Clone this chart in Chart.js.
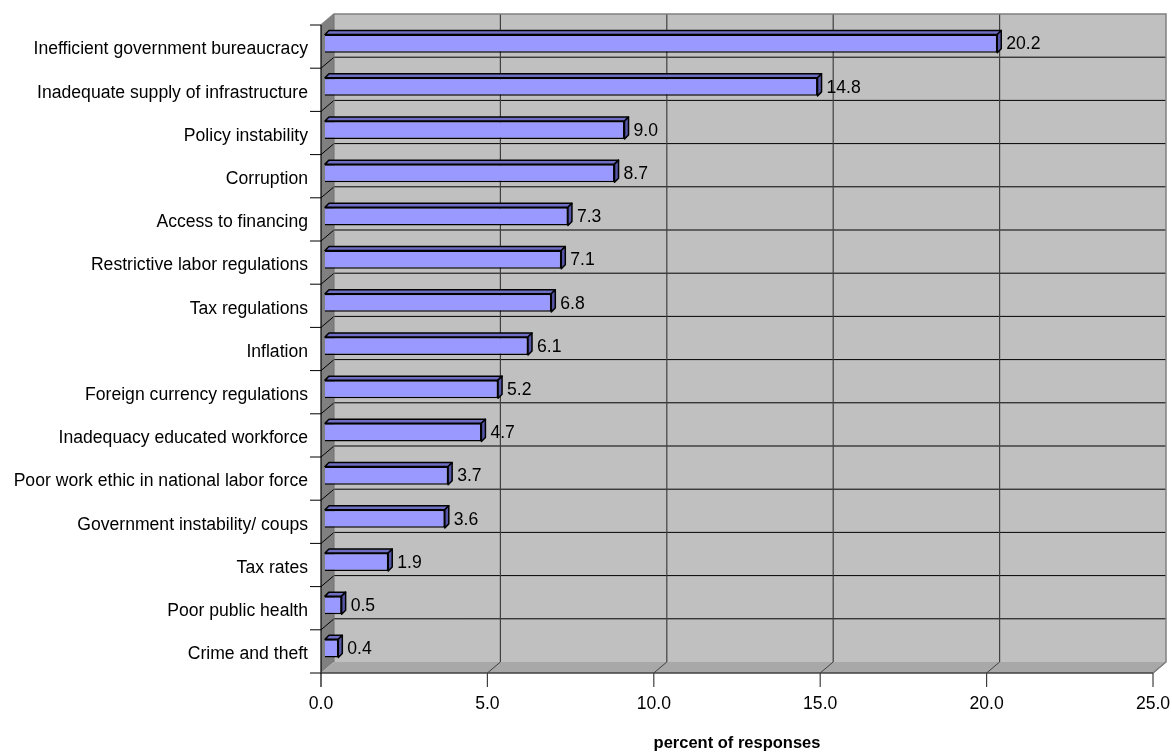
<!DOCTYPE html>
<html>
<head>
<meta charset="utf-8">
<script src="https://cdn.jsdelivr.net/npm/chart.js@4/dist/chart.umd.min.js"></script>
<style>
body{margin:0;background:#fff;}
#wrap{width:1172px;height:753px;}
</style>
</head>
<body>
<div id="wrap"><canvas id="grafico" width="1172" height="753"></canvas></div>
<script>
// categorias y valores
var categorias = ["Inefficient government bureaucracy","Inadequate supply of infrastructure","Policy instability","Corruption","Access to financing","Restrictive labor regulations","Tax regulations","Inflation","Foreign currency regulations","Inadequacy educated workforce","Poor work ethic in national labor force","Government instability/ coups","Tax rates","Poor public health","Crime and theft"];
var valores = [20.2,14.8,9.0,8.7,7.3,7.1,6.8,6.1,5.2,4.7,3.7,3.6,1.9,0.5,0.4];
var ticksX = [0,5,10,15,20,25];
var tituloX = "percent of responses";

var FUENTE = '"Liberation Sans", Arial, sans-serif';

// profundidad del efecto 3D
var DX = 13, DY = -11;   // pared
var BX = 4, BY = -3;     // desplazamiento de barras
var PX = 4, PY = -4;     // grosor de barras

function linea(ctx, x1, y1, x2, y2, color, w){
	ctx.beginPath();
	ctx.strokeStyle = color;
	ctx.lineWidth = w || 1;
	ctx.moveTo(x1, y1);
	ctx.lineTo(x2, y2);
	ctx.stroke();
}

function poligono(ctx, pts, fill, stroke){
	ctx.beginPath();
	ctx.moveTo(pts[0][0], pts[0][1]);
	for(var i=1;i<pts.length;i++) ctx.lineTo(pts[i][0], pts[i][1]);
	ctx.closePath();
	if(fill){ ctx.fillStyle = fill; ctx.fill(); }
	if(stroke){ ctx.strokeStyle = stroke; ctx.stroke(); }
}

var paredes = {
	id: 'paredes',
	beforeDatasetsDraw: function(chart){
		var ctx = chart.ctx, a = chart.chartArea;
		var L = a.left, R = a.right, T = a.top, B = a.bottom;
		var xs = chart.scales.x;
		var paso = (B - T) / categorias.length;
		ctx.save();
		// pared del fondo
		poligono(ctx, [[L+DX,T+DY],[R+DX,T+DY],[R+DX,B+DY],[L+DX,B+DY]], '#c0c0c0', null);
		// pared izquierda
		poligono(ctx, [[L,T],[L+DX,T+DY],[L+DX,B+DY],[L,B]], '#808080', null);
		// piso
		poligono(ctx, [[L,B],[L+DX,B+DY],[R+DX,B+DY],[R,B]], '#a8a8a8', null);
		// lineas horizontales
		for(var i=1;i<categorias.length;i++){
			var y = T + i*paso;
			linea(ctx, L+DX, y+DY, R+DX, y+DY, '#000', 1);
			linea(ctx, L, y, L+DX, y+DY, '#000', 1);
		}
		// lineas verticales
		ticksX.forEach(function(v){
			var x = xs.getPixelForValue(v);
			if(v > ticksX[0] && v < ticksX[ticksX.length-1]){
				linea(ctx, x+DX, T+DY, x+DX, B+DY, '#404040', 1.2);
			}
			if(v > ticksX[0]) linea(ctx, x, B, x+DX, B+DY, '#404040', 1);
		});
		// bordes
		ctx.beginPath();
		ctx.strokeStyle = '#808080';
		ctx.lineWidth = 1.5;
		ctx.moveTo(L, T); ctx.lineTo(L+DX, T+DY); ctx.lineTo(R+DX, T+DY);
		ctx.lineTo(R+DX, B+DY); ctx.lineTo(R, B);
		ctx.stroke();
		linea(ctx, L+DX, T+DY, L+DX, B+DY, '#707070', 1);
		// ejes frontales
		linea(ctx, L, T, L, B, '#000', 1.2);
		linea(ctx, L, B, R, B, '#404040', 1.5);
		for(var j=0;j<=categorias.length;j++){
			var yy = T + j*paso;
			linea(ctx, L-11, yy, L, yy, '#000', 1);
		}
		ticksX.forEach(function(v){
			var x = xs.getPixelForValue(v);
			linea(ctx, x, B, x, B+14, v == 0 ? '#000' : '#404040', 1.2);
		});
		ctx.restore();
		// barras desplazadas hacia el fondo
		ctx.save();
		ctx.translate(BX, BY);
	},
	afterDatasetsDraw: function(chart){
		var ctx = chart.ctx;
		var meta = chart.getDatasetMeta(0);
		meta.data.forEach(function(bar){
			var p = bar.getProps(['x','y','base','height'], true);
			var x0 = p.base, x1 = p.x, y0 = p.y - p.height/2, y1 = p.y + p.height/2;
			ctx.lineWidth = 1.5;
			ctx.lineJoin = 'round';
			// cara superior
			poligono(ctx, [[x0,y0],[x0+PX,y0+PY],[x1+PX,y0+PY],[x1,y0]], '#6e6ec4', '#000');
			// cara derecha
			poligono(ctx, [[x1,y0],[x1+PX,y0+PY],[x1+PX,y1+PY],[x1,y1]], '#5656a6', '#000');
		});
		ctx.restore();
		// etiquetas de valor
		ctx.save();
		ctx.fillStyle = '#000';
		ctx.font = '17.6px ' + FUENTE;
		ctx.textAlign = 'left';
		ctx.textBaseline = 'middle';
		meta.data.forEach(function(bar, i){
			var p = bar.getProps(['x','y'], true);
			ctx.fillText(valores[i].toFixed(1), p.x + 13, p.y + BY + 1);
		});
		ctx.restore();
	}
};

new Chart(document.getElementById("grafico"), {
	type: 'bar',
	data: {
		labels: categorias,
		datasets: [{
			data: valores,
			backgroundColor: '#9999ff',
			borderColor: '#000',
			borderWidth: 1.5,
			barPercentage: 0.42,
			categoryPercentage: 1
		}]
	},
	options: {
		indexAxis: 'y',
		responsive: false,
		animation: false,
		layout: { padding: { top: 25, right: 19, left: 0, bottom: 0 } },
		plugins: { legend: { display: false }, tooltip: { enabled: false } },
		scales: {
			x: {
				min: 0, max: 25,
				afterFit: function(s){ s.height = 80; s.paddingRight = 0; s.paddingLeft = 0; },
				grid: { display: false, drawTicks: false },
				border: { display: false },
				ticks: {
					stepSize: 5, padding: 21, color: '#000',
					font: { family: FUENTE, size: 17.6 },
					callback: function(v){ return Number(v).toFixed(1); }
				},
				title: {
					display: true, text: tituloX, color: '#000',
					font: { family: FUENTE, size: 16.5, weight: 'bold' },
					padding: { top: 0, bottom: 0 }
				}
			},
			y: {
				afterFit: function(s){ s.width = 321; },
				grid: { display: false, drawTicks: false },
				border: { display: false },
				ticks: {
					padding: 13, color: '#000', autoSkip: false, labelOffset: 3,
					font: { family: FUENTE, size: 17.6 }
				}
			}
		}
	},
	plugins: [paredes]
});
</script>
</body>
</html>
